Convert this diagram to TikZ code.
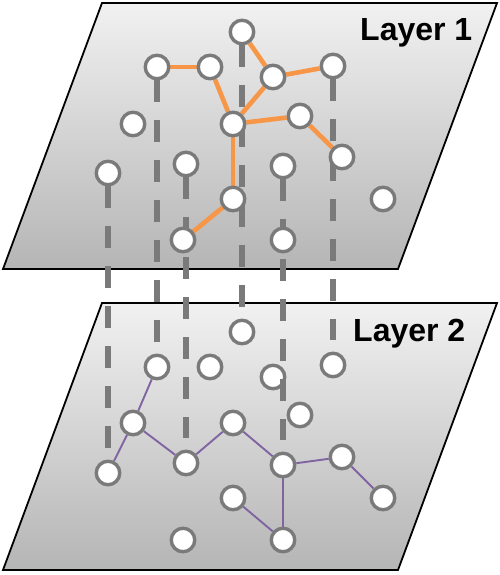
\documentclass[tikz,border=0pt]{standalone}
\usepackage{fontspec}
\setmainfont{Liberation Sans}
\pgfdeclarelayer{lzero}
\pgfdeclarelayer{lone}
\pgfdeclarelayer{ltwo}
\pgfdeclarelayer{lthree}
\pgfdeclarelayer{lfour}
\pgfdeclarelayer{lfive}
\pgfsetlayers{lzero,lone,ltwo,lthree,lfour,lfive,main}
\definecolor{nodegray}{HTML}{7A7A7A}
\definecolor{edgeorange}{HTML}{F79646}
\definecolor{edgepurple}{HTML}{8064A2}
\tikzset{
  dot/.style={circle, draw=nodegray, line width=3.4pt, fill=white, minimum size=23.5pt, inner sep=0pt},
  plane/.style={draw=black, line width=1.8pt, line join=miter, top color=gray!11, bottom color=gray!58},
  vline/.style={draw=nodegray, line width=5.5pt, dash pattern=on 22pt off 18pt},
  oedge/.style={draw=edgeorange, line width=4.6pt},
  pedge/.style={draw=edgepurple, line width=1.9pt},
  lbl/.style={font=\bfseries\fontsize{32}{32}\selectfont, inner sep=0pt, anchor=base west}
}
\begin{document}
\begin{tikzpicture}[x=1pt,y=-1pt]
\useasboundingbox (0,0) rectangle (500,575);
% lower plane
\begin{pgfonlayer}{lzero}
  \shade[plane] (102,303) -- (497,303) -- (398,570) -- (3,570) -- cycle;
  \node[lbl] (L2) at (353,341) {Layer 2};
\end{pgfonlayer}
% lower nodes
\begin{pgfonlayer}{ltwo}
  \node[dot] (a) at (242,332) {};
  \node[dot] (b) at (157,367) {};
  \node[dot] (c) at (210,367) {};
  \node[dot] (d) at (273,377) {};
  \node[dot] (e) at (333,365) {};
  \node[dot] (f) at (300,415) {};
  \node[dot] (g) at (133,423) {};
  \node[dot] (h) at (233,423) {};
  \node[dot] (i) at (108,473) {};
  \node[dot] (j) at (186,463) {};
  \node[dot] (k) at (283,465) {};
  \node[dot] (l) at (342,457) {};
  \node[dot] (m) at (233,498) {};
  \node[dot] (n) at (383,498) {};
  \node[dot] (o) at (183,540) {};
  \node[dot] (p) at (283,540) {};
\end{pgfonlayer}
% lower edges
\begin{pgfonlayer}{lone}
  \draw[pedge] (b) -- (g);
  \draw[pedge] (g) -- (i);
  \draw[pedge] (g) -- (j);
  \draw[pedge] (j) -- (h);
  \draw[pedge] (h) -- (k);
  \draw[pedge] (k) -- (l);
  \draw[pedge] (l) -- (n);
  \draw[pedge] (k) -- (p);
  \draw[pedge] (p) -- (m);
\end{pgfonlayer}
% upper plane
\begin{pgfonlayer}{lthree}
  \shade[plane] (102,3) -- (497,3) -- (398,269) -- (3,269) -- cycle;
  \node[lbl] (L1) at (360,41) {Layer 1};
\end{pgfonlayer}
% upper nodes
\node[dot] (A) at (242,32) {};
\node[dot] (B) at (157,67) {};
\node[dot] (C) at (210,67) {};
\node[dot] (D) at (273,77) {};
\node[dot] (E) at (333,66) {};
\node[dot] (F) at (133,124) {};
\node[dot] (G) at (233,124) {};
\node[dot] (H) at (300,116) {};
\node[dot] (I) at (342,157) {};
\node[dot] (J) at (108,173) {};
\node[dot] (K) at (186,164) {};
\node[dot] (L) at (283,166) {};
\node[dot] (M) at (233,199) {};
\node[dot] (N) at (383,199) {};
\node[dot] (O) at (183,240) {};
\node[dot] (P) at (283,240) {};
% orange edges
\begin{pgfonlayer}{lfive}
  \draw[oedge] (B) -- (C);
  \draw[oedge] (C) -- (G);
  \draw[oedge] (A) -- (D);
  \draw[oedge] (D) -- (E);
  \draw[oedge] (D) -- (G);
  \draw[oedge] (G) -- (H);
  \draw[oedge] (H) -- (I);
  \draw[oedge] (G) -- (M);
  \draw[oedge] (M) -- (O);
\end{pgfonlayer}
% dashed vertical connectors
\begin{pgfonlayer}{lfour}
  \draw[vline] (A.south) -- ([yshift=11.5pt]a.north);
  \draw[vline] (B.south) -- ([yshift=11.5pt]b.north);
  \draw[vline] (E.south) -- ([yshift=11.5pt]e.north);
  \draw[vline] (J.south) -- ([yshift=11.5pt]i.north);
  \draw[vline] (K.south) -- ([yshift=11.5pt]j.north);
  \draw[vline] (L.south) -- ([yshift=11.5pt]k.north);
\end{pgfonlayer}
\end{tikzpicture}
\end{document}
